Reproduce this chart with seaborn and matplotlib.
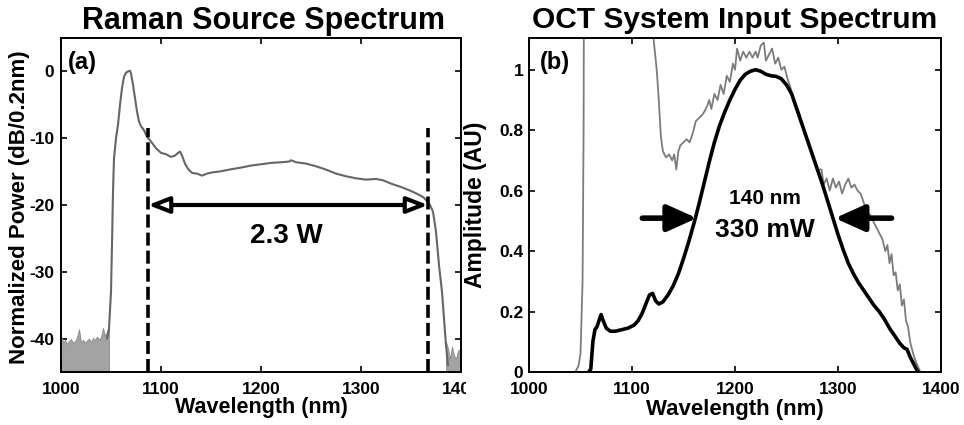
import matplotlib
matplotlib.use("Agg")
import matplotlib.pyplot as plt
from matplotlib.patches import Rectangle, ArrowStyle
import seaborn as sns
import pandas as pd

# ---------------- data: panel (a) Raman source spectrum ----------------
raman_wl = [1046, 1048, 1050, 1051, 1052, 1053, 1055, 1057, 1059, 1061, 1063, 1065,
            1067, 1069, 1070, 1072, 1074, 1076, 1078, 1080, 1083, 1086, 1090, 1095,
            1100, 1105, 1110, 1114, 1117, 1119, 1121, 1124, 1127, 1131, 1136, 1141,
            1146, 1152, 1158, 1165, 1172, 1180, 1190, 1200, 1210, 1220, 1228, 1230,
            1235, 1245, 1255, 1265, 1275, 1285, 1295, 1305, 1315, 1322, 1330, 1340,
            1350, 1357, 1362, 1366, 1369, 1372, 1375, 1378, 1381, 1383, 1385, 1387]
raman_db = [-40, -38.5, -33, -26, -18, -13, -10, -8, -5, -2.5, -0.8, -0.2,
            0, 0.1, -0.3, -2, -4, -6, -7.5, -8.2, -8.8, -9.8, -10.5, -11.5,
            -12.2, -12.4, -12.8, -12.6, -12.2, -12.0, -12.6, -13.8, -14.6, -15.2, -15.3, -15.6,
            -15.3, -15.1, -15.0, -14.8, -14.6, -14.4, -14.1, -13.9, -13.7, -13.6, -13.5, -13.3,
            -13.6, -13.8, -14.2, -14.7, -15.3, -15.7, -16.0, -16.2, -16.1, -16.3, -16.8, -17.3,
            -17.9, -18.4, -18.8, -19.4, -20.0, -21, -24, -29, -33, -37, -41, -44]

noise_left_wl = [1000, 1002, 1004, 1006, 1008, 1010, 1012, 1014, 1016, 1018, 1020, 1022,
                 1024, 1026, 1028, 1030, 1032, 1034, 1036, 1038, 1040, 1042, 1044, 1046, 1048]
noise_left_top = [-39.5, -40.5, -40.2, -40.8, -40.3, -40.1, -40.6, -40.4, -39.8, -38.6, -40.5, -40.2,
                  -40.6, -40.3, -40.0, -40.5, -39.9, -40.2, -39.7, -40.1, -39.8, -38.4, -39.6, -39.0, -38.3]
noise_right_wl = [1385, 1387, 1389, 1391, 1393, 1395, 1397, 1400]
noise_right_top = [-40.5, -41.5, -43.0, -41.2, -42.5, -43.0, -41.8, -41.5]

band_edges = [1087, 1367]
band_level = -20
band_top = -8.5
band_text = "2.3 W"

# ---------------- data: panel (b) OCT system input spectrum ----------------
oct_wl = [1058, 1060, 1062, 1064, 1066, 1068, 1070, 1072, 1075, 1079, 1084, 1090, 1096,
          1102, 1106, 1110, 1114, 1117, 1120, 1123, 1126, 1130, 1135, 1140, 1145, 1150,
          1155, 1160, 1165, 1170, 1175, 1180, 1185, 1190, 1195, 1200, 1205, 1210, 1215,
          1220, 1225, 1230, 1235, 1240, 1245, 1250, 1255, 1260, 1265, 1270, 1275, 1280,
          1285, 1290, 1295, 1300, 1305, 1310, 1315, 1320, 1325, 1330, 1335, 1340, 1345,
          1350, 1355, 1360, 1364, 1367, 1370, 1373, 1376, 1378]
oct_amp = [0, 0.01, 0.1, 0.14, 0.15, 0.17, 0.19, 0.17, 0.145, 0.135, 0.135, 0.14, 0.145,
           0.155, 0.17, 0.195, 0.23, 0.255, 0.26, 0.235, 0.225, 0.232, 0.255, 0.285, 0.325, 0.375,
           0.43, 0.49, 0.555, 0.625, 0.695, 0.76, 0.815, 0.86, 0.90, 0.935, 0.965, 0.985, 0.995,
           1.0, 0.995, 0.985, 0.98, 0.978, 0.97, 0.95, 0.92, 0.87, 0.82, 0.77, 0.72, 0.67,
           0.62, 0.565, 0.51, 0.455, 0.405, 0.36, 0.325, 0.295, 0.27, 0.245, 0.22, 0.2, 0.175,
           0.145, 0.12, 0.095, 0.08, 0.075, 0.05, 0.03, 0.01, 0]

src_wl = [1045, 1048, 1050, 1052, 1053, 1053.5, 1054, 1118, 1121, 1124, 1126, 1128, 1130,
          1133, 1136, 1139, 1141, 1143, 1145, 1147, 1150, 1153, 1156, 1159, 1162, 1165,
          1168, 1170, 1173, 1175, 1177, 1180, 1183, 1186, 1189, 1192, 1195, 1198, 1200,
          1202, 1205, 1208, 1211, 1214, 1217, 1220, 1222, 1225, 1228, 1230, 1233, 1236,
          1239, 1242, 1245, 1248, 1251, 1254, 1256, 1262, 1268, 1274, 1280, 1284, 1286,
          1289, 1292, 1295, 1298, 1301, 1304, 1307, 1310, 1313, 1316, 1319, 1322, 1325,
          1328, 1331, 1334, 1337, 1340, 1343, 1346, 1348, 1350, 1352, 1354, 1356, 1358,
          1360, 1362, 1364, 1366, 1368, 1370, 1373, 1376, 1380]
src_amp = [0, 0.02, 0.06, 0.3, 0.8, 1.5, 1.6, 1.6, 1.1, 1.0, 0.9, 0.78, 0.73,
           0.71, 0.72, 0.70, 0.72, 0.67, 0.73, 0.75, 0.76, 0.77, 0.76, 0.79, 0.83, 0.84,
           0.85, 0.86, 0.88, 0.90, 0.87, 0.92, 0.90, 0.95, 0.92, 0.98, 0.96, 1.02, 1.00,
           1.07, 1.03, 1.06, 1.04, 1.06, 1.04, 1.06, 1.04, 1.08, 1.09, 1.03, 1.05, 1.07,
           1.02, 1.04, 1.00, 1.01, 0.97, 0.94, 0.91, 0.86, 0.79, 0.73, 0.67, 0.67, 0.62,
           0.64, 0.60, 0.64, 0.61, 0.63, 0.59, 0.62, 0.64, 0.61, 0.62, 0.60, 0.59, 0.56,
           0.53, 0.52, 0.50, 0.48, 0.46, 0.44, 0.40, 0.42, 0.36, 0.39, 0.32, 0.33, 0.27,
           0.29, 0.22, 0.24, 0.17, 0.15, 0.10, 0.06, 0.03, 0]

fwhm_left = [1110, 1163]
fwhm_right = [1352, 1297]
fwhm_level = 0.509
fwhm_texts = ["140 nm", "330 mW"]

x_ticks = [1000, 1100, 1200, 1300, 1400]
x_ticklabels = ["1000", "1100", "1200", "1300", "1400"]
a_yticks = [0, -10, -20, -30, -40]
a_yticklabels = ["0", "-10", "-20", "-30", "-40"]
b_yticks = [0, 0.2, 0.4, 0.6, 0.8, 1.0]
b_yticklabels = ["0", "0.2", "0.4", "0.6", "0.8", "1"]

titles = ["Raman Source Spectrum", "OCT System Input Spectrum"]
xlabel = "Wavelength (nm)"
ylabels = ["Normalized Power (dB/0.2nm)", "Amplitude (AU)"]
panel_tags = ["(a)", "(b)"]

# ---------------- styling ----------------
sns.set_style("ticks")
plt.rcParams["font.family"] = ["Liberation Sans", "DejaVu Sans"]
plt.rcParams["font.weight"] = "bold"
plt.rcParams["axes.labelweight"] = "bold"
plt.rcParams["text.color"] = "black"
plt.rcParams["axes.labelcolor"] = "black"
plt.rcParams["xtick.color"] = "black"
plt.rcParams["ytick.color"] = "black"

W, H = 964, 425
fig = plt.figure(figsize=(W / 100, H / 100), dpi=100)
fig.patch.set_facecolor("white")
ax1 = fig.add_axes([61 / W, 1 - 372 / H, 400 / W, 334 / H], zorder=0)
ax2 = fig.add_axes([529 / W, 1 - 372 / H, 412 / W, 334 / H], zorder=2)

# ---------------- panel (a) ----------------
df_a = pd.DataFrame({"wl": raman_wl, "db": raman_db})
ax1.fill_between(noise_left_wl, -45, noise_left_top, color="#a3a3a3", lw=0.6,
                 edgecolor="#8a8a8a")
ax1.fill_between(noise_right_wl, -45, noise_right_top, color="#a3a3a3", lw=0.6,
                 edgecolor="#8a8a8a")
sns.lineplot(data=df_a, x="wl", y="db", ax=ax1, color="#666666", linewidth=1.5,
             estimator=None, sort=False)
for xe in band_edges:
    ax1.plot([xe, xe], [-45, band_top], color="black", lw=2.6,
             linestyle=(0, (3.6, 1.4)), zorder=4)
ax1.annotate("", xy=(band_edges[0], band_level), xytext=(band_edges[1], band_level),
             arrowprops=dict(arrowstyle=ArrowStyle("<|-|>", head_length=0.9, head_width=0.35),
                             mutation_scale=14, fc="white", ec="black", lw=3,
                             shrinkA=0, shrinkB=0), zorder=5)
ax1.text(1225, -24.6, band_text, fontsize=20, fontweight="bold", ha="center", va="center")
ax1.text(1007, 1.3, panel_tags[0], fontsize=17, fontweight="bold", ha="left", va="center")

ax1.set_xlim(1000, 1400)
ax1.set_ylim(-45, 5)
ax1.set_xticks(x_ticks)
ax1.set_xticklabels(x_ticklabels)
ax1.set_yticks(a_yticks)
ax1.set_yticklabels(a_yticklabels)
ax1.set_xlabel(xlabel, fontsize=15.5, fontweight="bold")
ax1.set_ylabel(ylabels[0], fontsize=16, fontweight="bold")
ax1.xaxis.set_label_coords(0.5, -0.076)
ax1.yaxis.set_label_coords(-0.078, 0.494)

# ---------------- panel (b) ----------------
df_src = pd.DataFrame({"wl": src_wl, "amp": src_amp})
df_oct = pd.DataFrame({"wl": oct_wl, "amp": oct_amp})
sns.lineplot(data=df_src, x="wl", y="amp", ax=ax2, color="#7c7c7c", linewidth=1.3,
             estimator=None, sort=False)
sns.lineplot(data=df_oct, x="wl", y="amp", ax=ax2, color="black", linewidth=2.6,
             estimator=None, sort=False)
arrow_style = ArrowStyle("-|>", head_length=1.0, head_width=0.45)
for xs, xe in [(fwhm_left[0], fwhm_left[1]), (fwhm_right[0], fwhm_right[1])]:
    ax2.annotate("", xy=(xe, fwhm_level), xytext=(xs, fwhm_level),
                 arrowprops=dict(arrowstyle=arrow_style, mutation_scale=18,
                                 fc="black", ec="black", lw=4, shrinkA=0, shrinkB=0))
ax2.text(1229, 0.575, fwhm_texts[0], fontsize=15, fontweight="bold", ha="center", va="center")
ax2.text(1229, 0.47, fwhm_texts[1], fontsize=19, fontweight="bold", ha="center", va="center")
ax2.text(1011, 1.023, panel_tags[1], fontsize=17, fontweight="bold", ha="left", va="center")

ax2.set_xlim(1000, 1400)
ax2.set_ylim(0, 1.105)
ax2.set_xticks(x_ticks)
ax2.set_xticklabels(x_ticklabels)
ax2.set_yticks(b_yticks)
ax2.set_yticklabels(b_yticklabels)
ax2.set_xlabel(xlabel, fontsize=16, fontweight="bold")
ax2.set_ylabel(ylabels[1], fontsize=16.5, fontweight="bold")
ax2.xaxis.set_label_coords(0.5, -0.082)
ax2.yaxis.set_label_coords(-0.102, 0.5)

for ax, xpad, ypad in [(ax1, 7, 5), (ax2, 7, 4)]:
    ax.tick_params(direction="in", top=True, right=True, length=4, width=1.2,
                   labelsize=12.5, colors="black")
    ax.tick_params(axis="x", pad=xpad)
    ax.tick_params(axis="y", pad=ypad)
    for s in ax.spines.values():
        s.set_visible(True)
        s.set_linewidth(1.4)
        s.set_color("black")

# titles
fig.text(264 / W, 1 - 21 / H, titles[0], fontsize=22, fontweight="bold",
         ha="center", va="center")
fig.text(735 / W, 1 - 20 / H, titles[1], fontsize=21.5, fontweight="bold",
         ha="center", va="center")

# the right-hand figure was pasted over the edge of the left one
fig.patches.append(Rectangle((466 / W, 0), (528 - 466) / W, 1, transform=fig.transFigure,
                             facecolor="white", edgecolor="none", zorder=1))

fig.savefig("out.png", dpi=100, facecolor="white")
